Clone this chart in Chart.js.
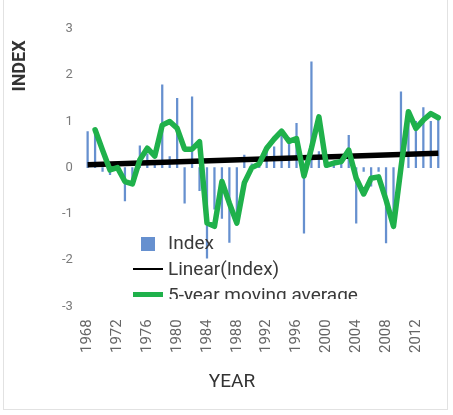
<!DOCTYPE html>
<html>
<head>
<meta charset="utf-8">
<script src="https://cdn.jsdelivr.net/npm/chart.js@4/dist/chart.umd.min.js"></script>
<style>
  html, body { margin: 0; padding: 0; background: #ffffff; }
  #wrap { position: relative; width: 453px; height: 415px; overflow: hidden; font-family: Roboto, "Noto Sans", sans-serif; }
  #frame { position: absolute; left: 3px; top: -2px; width: 445px; height: 412px; border: 1px solid #e2e2e2; box-sizing: border-box; }
  canvas { position: absolute; left: 0; top: 0; }
  .ttl { position: absolute; color: #333; white-space: nowrap; transform: translate(-50%, -50%); }
  #legend { position: absolute; left: 0; top: 0; width: 453px; height: 299px; overflow: hidden; pointer-events: none; }
  .lg { position: absolute; }
  .lt { position: absolute; font-size: 19px; line-height: 20px; color: #3a3a3a; white-space: nowrap; }
</style>
</head>
<body>
<div id="wrap">
  <div id="frame"></div>
  <canvas id="c" width="453" height="415"></canvas>
  <div class="ttl" id="ytitle" style="left:18px; top:66px; font-size:18px; font-weight:bold; transform: translate(-50%,-50%) rotate(-90deg);">INDEX</div>
  <div class="ttl" id="xtitle" style="left:232px; top:380px; font-size:19px;">YEAR</div>
  <div id="legend"></div>
</div>
<script>
// ---- data ----
const years = ['1968','1969','1970','1971','1972','1973','1974','1975','1976','1977',
  '1978','1979','1980','1981','1982','1983','1984','1985','1986','1987',
  '1988','1989','1990','1991','1992','1993','1994','1995','1996','1997',
  '1998','1999','2000','2001','2002','2003','2004','2005','2006','2007',
  '2008','2009','2010','2011','2012','2013','2014','2015'];

const indexValues = [0.78, 0.72, -0.08, -0.15, 0.05, -0.72, -0.30, 0.47, 0.30, 0.15,
  1.79, 0.24, 1.50, -0.77, 1.53, -0.50, -1.96, -0.90, -1.10, -1.62,
  -1.15, 0.27, 0.08, 0.12, 0.47, 0.45, 0.80, 0.65, 0.96, -1.42,
  2.29, 0.35, 0.05, 0.08, 0.10, 0.70, -1.20, -0.08, -0.40, -0.08,
  -1.63, -1.30, 1.64, 1.15, 1.00, 1.30, 1.00, 1.07];

const movingAverage = [null, 0.82, 0.38, -0.05, 0.00, -0.30, -0.35, 0.17, 0.42, 0.25,
  0.92, 1.00, 0.85, 0.40, 0.40, 0.56, -1.20, -1.27, -0.30, -0.77,
  -1.20, -0.33, 0.00, 0.08, 0.42, 0.62, 0.79, 0.57, 0.63, -0.18,
  0.42, 1.10, 0.05, 0.10, 0.13, 0.38, -0.23, -0.57, -0.23, -0.20,
  -0.70, -1.27, 0.00, 1.21, 0.85, 1.03, 1.17, 1.08];

const trendEnds = [0.06, 0.31];   // Linear(Index) at first and last year

const xTickLabels = ['1968','1972','1976','1980','1984','1988','1992','1996','2000','2004','2008','2012'];
const yTicks = [-3, -2, -1, 0, 1, 2, 3];

const legendLabels = ['Index', 'Linear(Index)', '5-year moving average'];

// ---- colours ----
const barColor = '#6690cf';
const trendColor = '#000000';
const maColor = '#1fb14b';

// trend table for the library (values only at the two ends, line spans between)
const trendData = years.map((y, i) => i === 0 ? trendEnds[0] : (i === years.length - 1 ? trendEnds[1] : null));

new Chart(document.getElementById('c'), {
  type: 'bar',
  data: {
    labels: years,
    datasets: [
      { type: 'line', label: legendLabels[2], data: movingAverage, borderColor: maColor, backgroundColor: maColor,
        borderWidth: 5.5, pointRadius: 0, tension: 0, borderJoinStyle: 'round', borderCapStyle: 'round', order: 1, spanGaps: false },
      { type: 'line', label: legendLabels[1], data: trendData, borderColor: trendColor, backgroundColor: trendColor,
        borderWidth: 5.5, pointRadius: 0, tension: 0, spanGaps: true, order: 2 },
      { type: 'bar', label: legendLabels[0], data: indexValues, backgroundColor: barColor, borderWidth: 0,
        barThickness: 1.6, order: 3 }
    ]
  },
  options: {
    responsive: false,
    animation: false,
    devicePixelRatio: 1,
    layout: { padding: { left: 51, right: 11, top: 29, bottom: 49 } },
    plugins: { legend: { display: false }, tooltip: { enabled: false }, title: { display: false } },
    scales: {
      x: {
        type: 'category',
        offset: true,
        grid: { display: false, drawTicks: false },
        border: { display: false },
        afterFit: (scale) => { scale.paddingRight = 0; },
        ticks: {
          autoSkip: false, minRotation: 90, maxRotation: 90, padding: 13,
          color: '#666666', font: { family: 'Roboto', size: 15 },
          callback: function (v, i) { const lab = this.getLabelForValue(v); return xTickLabels.includes(lab) ? lab : ''; }
        }
      },
      y: {
        min: yTicks[0], max: yTicks[yTicks.length - 1],
        grid: { display: false, drawTicks: false },
        border: { display: false },
        afterBuildTicks: (axis) => { axis.ticks = yTicks.map(v => ({ value: v })); },
        ticks: { padding: 11, color: '#7a7a7a', font: { family: 'Roboto', size: 13 } }
      }
    }
  }
});

// ---- legend (inside plot area, clipped at bottom like the reference) ----
const lg = document.getElementById('legend');
const items = [
  { html: '<div class="lg" style="left:141px; top:237px; width:14px; height:14px; background:' + barColor + ';"></div>', y: 233 },
  { html: '<div class="lg" style="left:133px; top:268px; width:30px; height:2px; background:' + trendColor + ';"></div>', y: 259 },
  { html: '<div class="lg" style="left:133px; top:292px; width:30px; height:5px; background:' + maColor + ';"></div>', y: 285 }
];
items.forEach((it, i) => {
  lg.insertAdjacentHTML('beforeend', it.html);
  const t = document.createElement('div');
  t.className = 'lt';
  t.style.left = '168px';
  t.style.top = it.y + 'px';
  t.textContent = legendLabels[i];
  lg.appendChild(t);
});
</script>
</body>
</html>
